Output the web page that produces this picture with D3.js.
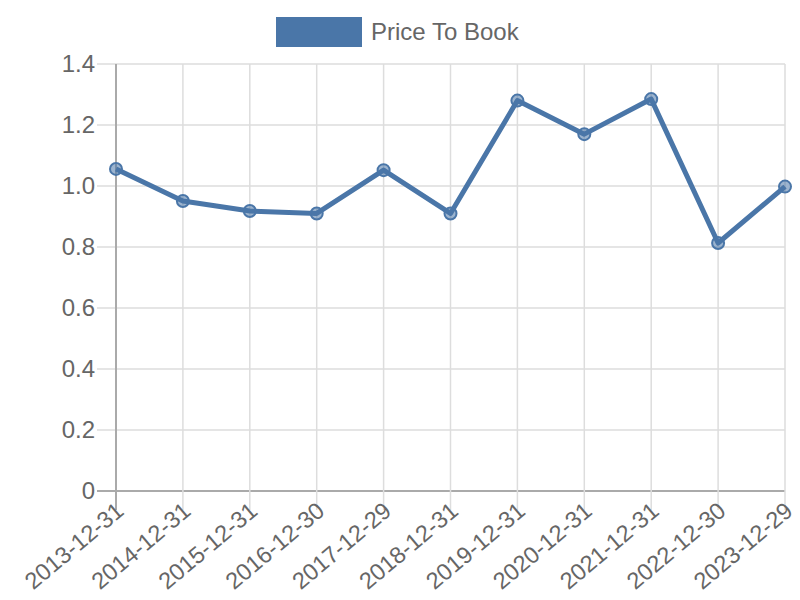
<!DOCTYPE html>
<html><head><meta charset="utf-8">
<script src="https://cdn.jsdelivr.net/npm/d3@7/dist/d3.min.js"></script>
<style>body{margin:0;background:#fff}svg{display:block;font-family:"Liberation Sans",Arial,sans-serif}</style>
</head><body><svg id="c" width="800" height="600"></svg>
<script>
const categories = ["2013-12-31","2014-12-31","2015-12-31","2016-12-30","2017-12-29","2018-12-31","2019-12-31","2020-12-31","2021-12-31","2022-12-30","2023-12-29"];
const values = [1.056,0.951,0.918,0.910,1.052,0.910,1.280,1.170,1.285,0.813,0.998];
const yTicks = [0,0.2,0.4,0.6,0.8,1.0,1.2,1.4];
const seriesName = "Price To Book";

const svg = d3.select("#c");
const L=116,R=785,T=64,B=491;
const color="#4a76a8";
const x=d3.scalePoint().domain(categories).range([L,R]);
const y=d3.scaleLinear().domain([0,1.4]).range([B,T]);

const g=svg.append("g");
// grid
g.selectAll(".gy").data(yTicks).enter().append("line")
 .attr("x1",L-19).attr("x2",R).attr("y1",d=>y(d)).attr("y2",d=>y(d))
 .attr("stroke",d=>d===0?"#aaa":"#ddd").attr("stroke-width",d=>d===0?2:1.5);
g.selectAll(".gx").data(categories).enter().append("line")
 .attr("x1",d=>x(d)).attr("x2",d=>x(d)).attr("y1",T).attr("y2",B+19)
 .attr("stroke",(d,i)=>i===0?"#aaa":"#ddd").attr("stroke-width",(d,i)=>i===0?2:1.5);
// y labels
g.selectAll(".yl").data(yTicks).enter().append("text")
 .attr("x",L-21).attr("y",d=>y(d)).attr("dy","0.35em").attr("text-anchor","end")
 .attr("fill","#666").attr("font-size",24)
 .text(d=>d===0?"0":d3.format(".1f")(d));
// x labels
g.selectAll(".xl").data(categories).enter().append("text")
 .attr("transform",d=>`translate(${x(d)+4},${B+16}) rotate(-40)`)
 .attr("text-anchor","end").attr("dy","0.35em")
 .attr("fill","#666").attr("font-size",23.5).text(d=>d);
// line
g.append("path").datum(values)
 .attr("d",d3.line().x((d,i)=>x(categories[i])).y(d=>y(d)))
 .attr("fill","none").attr("stroke",color).attr("stroke-width",5).attr("stroke-linejoin","round");
g.selectAll(".pt").data(values).enter().append("circle")
 .attr("cx",(d,i)=>x(categories[i])).attr("cy",d=>y(d)).attr("r",6)
 .attr("fill","rgba(74,118,168,0.55)").attr("stroke",color).attr("stroke-width",2);
// legend
svg.append("rect").attr("x",276).attr("y",17).attr("width",86).attr("height",30).attr("fill",color);
svg.append("text").attr("x",371).attr("y",32).attr("dy","0.35em").attr("fill","#666").attr("font-size",24).text(seriesName);
</script></body></html>
